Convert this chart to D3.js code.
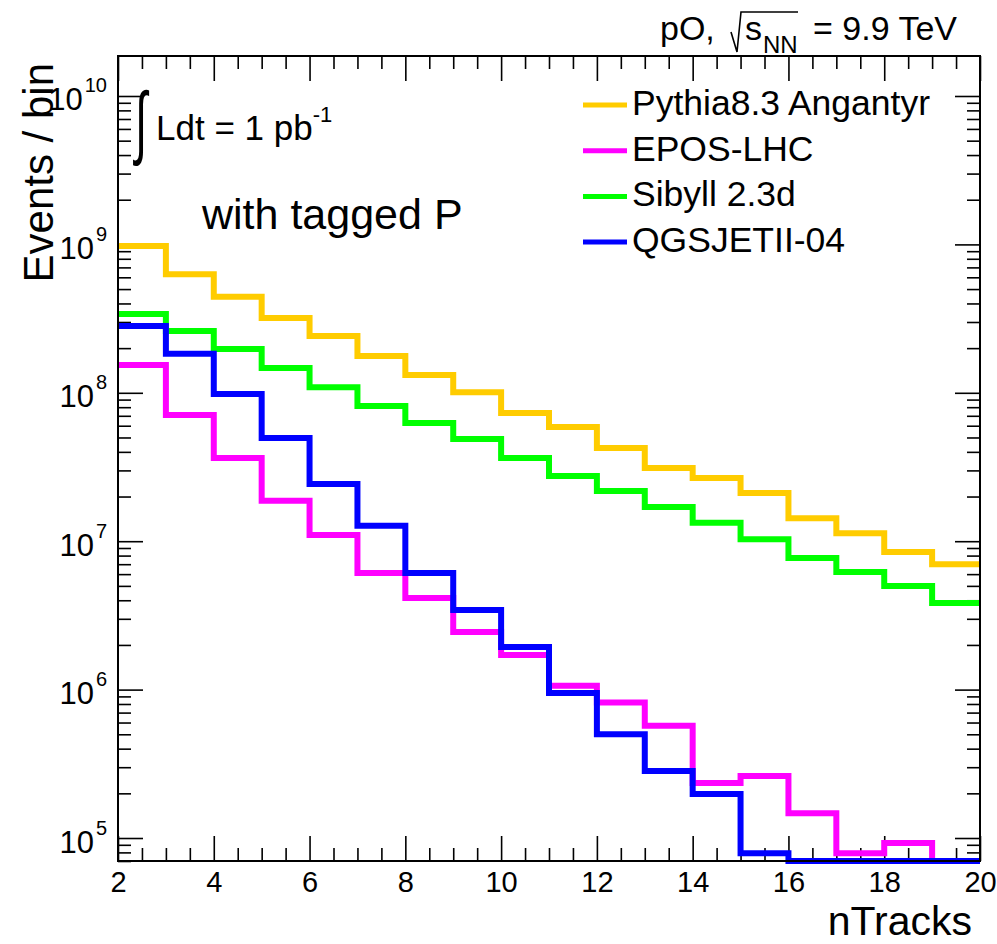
<!DOCTYPE html>
<html>
<head>
<meta charset="utf-8">
<script src="https://cdn.jsdelivr.net/npm/d3@7"></script>
<style>
  body { margin: 0; background: #fff; }
  svg { display: block; }
  text { font-family: "Liberation Sans", Arial, Helvetica, sans-serif; fill: #000; }
</style>
</head>
<body>
<svg id="chart" width="997" height="944"></svg>
<script>
// Low edges of the nTracks bins (unit width), last edge closes the range
const binEdges = [2, 3, 4, 5, 6, 7, 8, 9, 10, 11, 12, 13, 14, 15, 16, 17, 18, 19, 20];

// Events per bin for each generator
const pythia = [9.75e8, 6.3e8, 4.43e8, 3.19e8, 2.41e8, 1.77e8, 1.32e8, 1.01e8, 7.3e7,
                5.89e7, 4.25e7, 3.11e7, 2.67e7, 2.11e7, 1.43e7, 1.13e7, 8.45e6, 7.0e6];
const epos   = [1.54e8, 7.08e7, 3.64e7, 1.87e7, 1.10e7, 6.1e6, 4.14e6, 2.44e6, 1.71e6,
                1.06e6, 8.2e5, 5.7e5, 2.35e5, 2.62e5, 1.47e5, 7.9e4, 9.25e4, 0];
const sibyll = [3.40e8, 2.61e8, 1.97e8, 1.47e8, 1.09e8, 8.15e7, 6.26e7, 4.88e7, 3.64e7,
                2.75e7, 2.18e7, 1.70e7, 1.33e7, 1.03e7, 7.7e6, 6.2e6, 4.99e6, 3.83e6];
const qgsjet = [2.82e8, 1.83e8, 9.8e7, 4.96e7, 2.43e7, 1.27e7, 6.1e6, 3.44e6, 1.94e6,
                9.5e5, 5.0e5, 2.83e5, 1.98e5, 7.9e4, 0, 0, 0, 0];

const seriesNames  = ["Pythia8.3 Angantyr", "EPOS-LHC", "Sibyll 2.3d", "QGSJETII-04"];
const seriesColors = ["#ffcc00", "#ff00ff", "#00ff00", "#0000ff"];
const seriesValues = [pythia, epos, sibyll, qgsjet];

const xMajorTicks = [2, 4, 6, 8, 10, 12, 14, 16, 18, 20];
const yDecades = [5, 6, 7, 8, 9, 10];

const svg = d3.select("#chart");
const frame = { left: 118, right: 980, top: 56, bottom: 861 };
const yMin = 7.0e4, yMax = 1.86e10;

const x = d3.scaleLinear().domain([2, 20]).range([frame.left, frame.right]);
const y = d3.scaleLog().domain([yMin, yMax]).range([frame.bottom, frame.top]);

// Tick positions
const xMinorTicks = d3.range(2, 20.001, 0.5).filter(v => !xMajorTicks.includes(v));
const yMajor = yDecades.map(d => Math.pow(10, d));
const yMinor = [];
for (let d = 4; d <= 10; d++) {
  for (let k = 2; k <= 9; k++) {
    const v = k * Math.pow(10, d);
    if (v >= yMin && v <= yMax) yMinor.push(v);
  }
}
const bigTick = 25, smallTick = 13;

function axisGroup(axis, tx, ty) {
  const g = svg.append("g").attr("transform", `translate(${tx},${ty})`).call(axis);
  g.select(".domain").remove();
  g.selectAll(".tick line").attr("stroke", "#000").attr("stroke-width", 1.6);
  return g;
}

// Bottom axis: inward ticks + labels
const xb = axisGroup(d3.axisBottom(x).tickValues(xMajorTicks).tickSizeInner(-bigTick)
  .tickSizeOuter(0).tickPadding(13).tickFormat(d3.format("d")), 0, frame.bottom);
xb.selectAll("text").attr("font-size", 29).attr("dy", null).attr("y", 31)
  .attr("font-family", '"Liberation Sans", Arial, sans-serif');
axisGroup(d3.axisBottom(x).tickValues(xMinorTicks).tickSizeInner(-smallTick)
  .tickSizeOuter(0).tickFormat(""), 0, frame.bottom);
// Top axis mirror
axisGroup(d3.axisTop(x).tickValues(xMajorTicks).tickSizeInner(-bigTick)
  .tickSizeOuter(0).tickFormat(""), 0, frame.top);
axisGroup(d3.axisTop(x).tickValues(xMinorTicks).tickSizeInner(-smallTick)
  .tickSizeOuter(0).tickFormat(""), 0, frame.top);

// Left axis with 10^n labels
const yl = axisGroup(d3.axisLeft(y).tickValues(yMajor).tickSizeInner(-bigTick)
  .tickSizeOuter(0).tickPadding(11).tickFormat(""), frame.left, 0);
yl.selectAll(".tick text").each(function(d) {
  const t = d3.select(this).attr("font-size", 31).attr("dy", null).attr("y", 14)
    .attr("font-family", '"Liberation Sans", Arial, sans-serif').attr("text-anchor", "end");
  t.text(null);
  t.append("tspan").text("10");
  t.append("tspan").attr("font-size", 20).attr("dy", -18).attr("dx", 2)
    .text(String(Math.round(Math.log10(d))));
});
axisGroup(d3.axisLeft(y).tickValues(yMinor).tickSizeInner(-smallTick)
  .tickSizeOuter(0).tickFormat(""), frame.left, 0);
// Right axis mirror
axisGroup(d3.axisRight(y).tickValues(yMajor).tickSizeInner(-bigTick)
  .tickSizeOuter(0).tickFormat(""), frame.right, 0);
axisGroup(d3.axisRight(y).tickValues(yMinor).tickSizeInner(-smallTick)
  .tickSizeOuter(0).tickFormat(""), frame.right, 0);

// Histograms drawn as steps; empty bins sit on the lower frame edge
const stepLine = d3.line().curve(d3.curveStepAfter)
  .x(p => x(p[0])).y(p => y(Math.max(p[1], yMin)));

seriesValues.forEach((vals, i) => {
  const pts = vals.map((v, j) => [binEdges[j], v]);
  pts.push([binEdges[vals.length], vals[vals.length - 1]]);
  svg.append("path").datum(pts)
    .attr("d", stepLine)
    .attr("fill", "none")
    .attr("stroke", seriesColors[i])
    .attr("stroke-width", 6)
    .attr("stroke-linejoin", "miter")
    .attr("stroke-linecap", "butt");
});

// Frame
svg.append("rect")
  .attr("x", frame.left).attr("y", frame.top)
  .attr("width", frame.right - frame.left).attr("height", frame.bottom - frame.top)
  .attr("fill", "none").attr("stroke", "#000").attr("stroke-width", 2);

// Axis titles
svg.append("text").attr("x", 972).attr("y", 935).attr("text-anchor", "end")
  .attr("font-size", 41).text("nTracks");
svg.append("text").attr("transform", "translate(53,63) rotate(-90)")
  .attr("text-anchor", "end").attr("font-size", 42).text("Events / bin");

// Legend
const legend = svg.append("g");
seriesNames.forEach((name, i) => {
  const yy = 115 + i * 45.7;
  legend.append("line").attr("x1", 583).attr("x2", 627)
    .attr("y1", yy - 10).attr("y2", yy - 10)
    .attr("stroke", seriesColors[i]).attr("stroke-width", 5);
  legend.append("text").attr("x", 632).attr("y", yy).attr("font-size", 35.5).text(name);
});

// Luminosity label
svg.append("text").attr("transform", "translate(135,149) scale(0.7,1.3)")
  .attr("font-size", 62).attr("font-family", '"DejaVu Sans", sans-serif').text("\u222B");
const lumi = svg.append("text").attr("x", 156).attr("y", 140).attr("font-size", 35);
lumi.append("tspan").text("Ldt = 1 pb");
lumi.append("tspan").attr("font-size", 22).attr("dy", -18).text("-1");

svg.append("text").attr("x", 202).attr("y", 229).attr("font-size", 43).text("with tagged P");

// Collision system label
svg.append("text").attr("x", 660).attr("y", 40).attr("font-size", 34).text("pO,");
svg.append("path").attr("d", "M731,32 L737,52 L741,12 L798,12")
  .attr("fill", "none").attr("stroke", "#000").attr("stroke-width", 1.6);
svg.append("text").attr("x", 745).attr("y", 40).attr("font-size", 34).text("s");
svg.append("text").attr("x", 763).attr("y", 53).attr("font-size", 24).text("NN");
svg.append("text").attr("x", 957).attr("y", 40).attr("text-anchor", "end")
  .attr("font-size", 34).text("= 9.9 TeV");
</script>
</body>
</html>
